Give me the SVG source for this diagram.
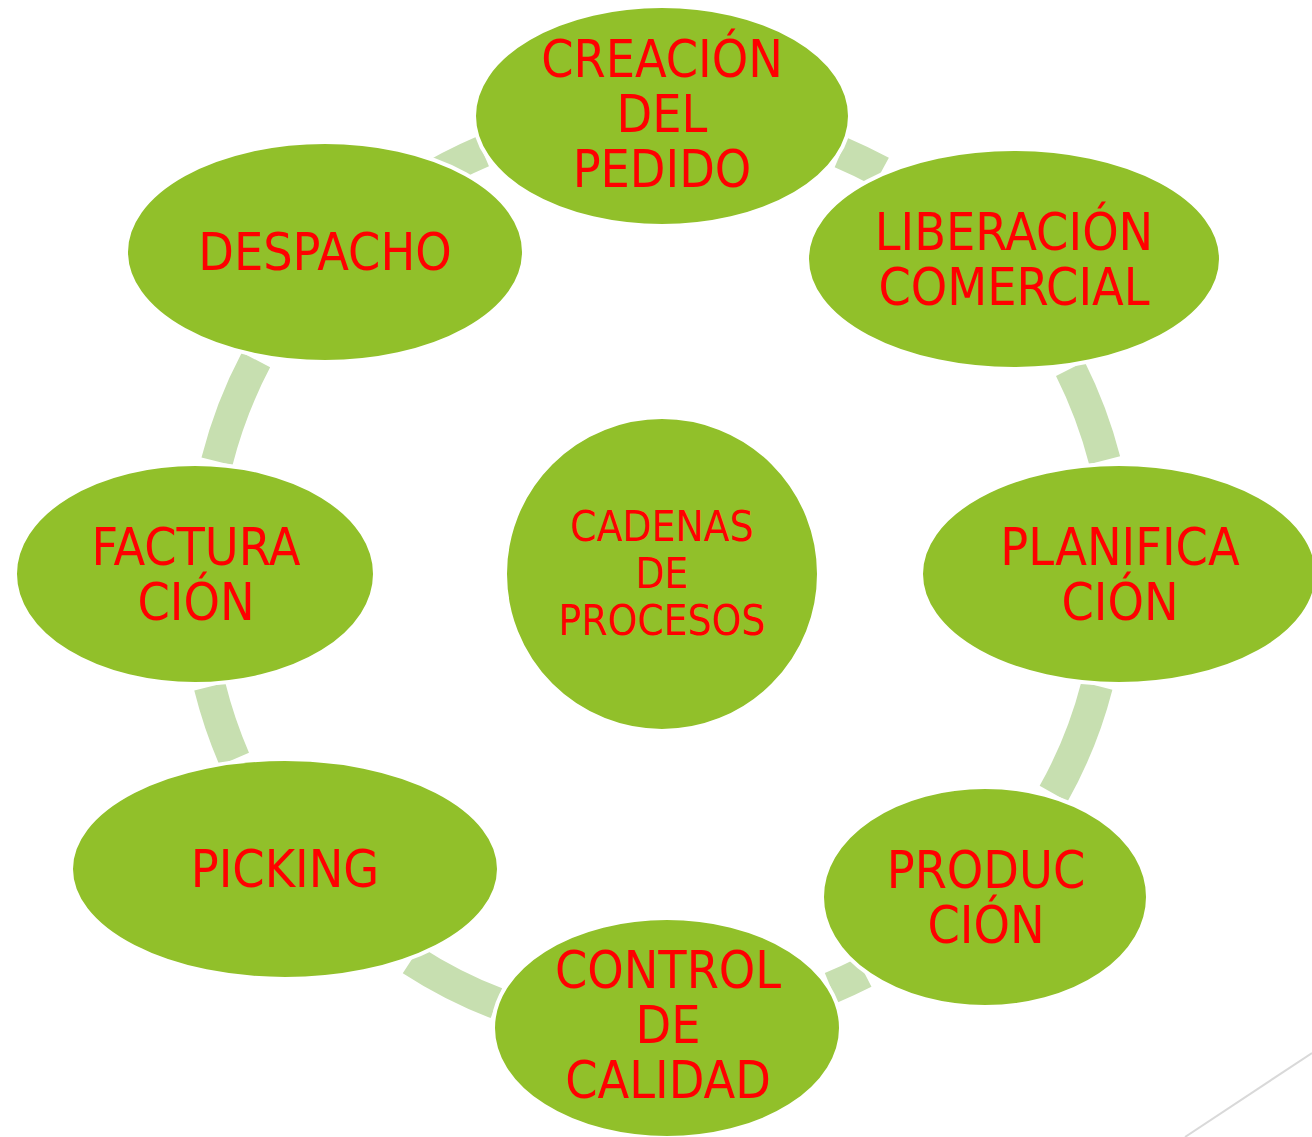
<svg xmlns="http://www.w3.org/2000/svg" width="1312" height="1137" viewBox="0 0 1312 1137">
<style>
.node{fill:#91C02A;stroke:#FFFFFF;stroke-width:4}
.arc{fill:none;stroke:#C7DFB0;stroke-width:32;stroke-linecap:butt}
.lbl{font-family:"DejaVu Sans Condensed","DejaVu Sans",sans-serif;font-stretch:condensed;font-size:51.5px;fill:#FF0000;text-anchor:middle}
.ctr{font-size:42px}
</style>
<rect width="1312" height="1137" fill="#FFFFFF"/>
<line x1="1185" y1="1137" x2="1312" y2="1053" stroke="#D9D9D9" stroke-width="2"/>
<g id="connectors">
<path class="arc" d="M840.9,152.4 A458,458 0 0 1 881.2,171.9"/>
<path class="arc" d="M1070.3,368.7 A457,457 0 0 1 1104.6,460.3"/>
<path class="arc" d="M1096.9,685.7 A449,449 0 0 1 1053.6,793.7"/>
<path class="arc" d="M864.2,972.6 A447,447 0 0 1 830.9,987.9"/>
<path class="arc" d="M496.4,1003.2 A460,460 0 0 1 411.5,959.8"/>
<path class="arc" d="M234.3,759.1 A466,466 0 0 1 209.8,686.7"/>
<path class="arc" d="M217.0,461.4 A459,459 0 0 1 256.0,359.9"/>
<path class="arc" d="M418.8,184.8 A459,459 0 0 1 482.7,151.5"/>
</g>
<g id="center">
<circle class="node" cx="662" cy="574" r="157"/>
<text class="lbl ctr" x="662" y="541">CADENAS</text>
<text class="lbl ctr" x="662" y="588">DE</text>
<text class="lbl ctr" x="662" y="635">PROCESOS</text>
</g>
<g id="creacion">
<ellipse class="node" cx="662" cy="116" rx="188" ry="110"/>
<text class="lbl" x="662" y="77">CREACIÓN</text>
<text class="lbl" x="662" y="132">DEL</text>
<text class="lbl" x="662" y="187">PEDIDO</text>
</g>
<g id="liberacion">
<ellipse class="node" cx="1014" cy="259" rx="207" ry="110"/>
<text class="lbl" x="1014" y="250">LIBERACIÓN</text>
<text class="lbl" x="1014" y="305">COMERCIAL</text>
</g>
<g id="planificacion">
<ellipse class="node" cx="1119" cy="574" rx="198" ry="110"/>
<text class="lbl" x="1120" y="565">PLANIFICA</text>
<text class="lbl" x="1120" y="620">CIÓN</text>
</g>
<g id="produccion">
<ellipse class="node" cx="985" cy="897" rx="163" ry="110"/>
<text class="lbl" x="986" y="888">PRODUC</text>
<text class="lbl" x="986" y="943">CIÓN</text>
</g>
<g id="control">
<ellipse class="node" cx="667" cy="1028" rx="174" ry="110"/>
<text class="lbl" x="668" y="988">CONTROL</text>
<text class="lbl" x="668" y="1043">DE</text>
<text class="lbl" x="668" y="1098">CALIDAD</text>
</g>
<g id="picking">
<ellipse class="node" cx="285" cy="869" rx="214" ry="110"/>
<text class="lbl" x="285" y="887">PICKING</text>
</g>
<g id="facturacion">
<ellipse class="node" cx="195" cy="574" rx="180" ry="110"/>
<text class="lbl" x="196" y="565">FACTURA</text>
<text class="lbl" x="196" y="620">CIÓN</text>
</g>
<g id="despacho">
<ellipse class="node" cx="325" cy="252" rx="199" ry="110"/>
<text class="lbl" x="325" y="270">DESPACHO</text>
</g>
</svg>
